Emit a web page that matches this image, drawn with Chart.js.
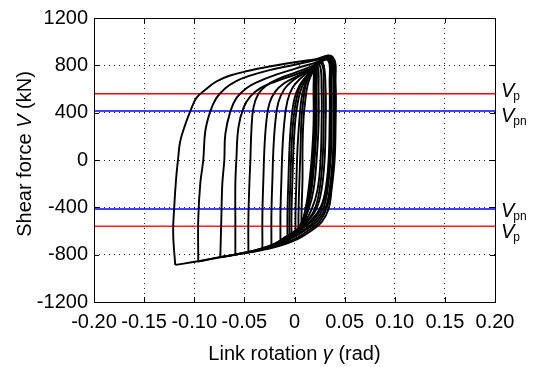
<!DOCTYPE html>
<html>
<head>
<meta charset="utf-8">
<script src="https://cdn.jsdelivr.net/npm/chart.js@4.4.1/dist/chart.umd.min.js"></script>
<style>
  html, body { margin: 0; padding: 0; background: #fff; }
  #wrap { width: 534px; height: 367px; }
</style>
</head>
<body>
<div id="wrap"><canvas id="c" width="534" height="367"></canvas></div>
<script>
const FONT = '"Liberation Sans", Arial, sans-serif';

// link rotation (rad), shear force (kN) - one array per cycle
const loop1 = [[-0.119,-886],[-0.121,-624],[-0.120,-400],[-0.118,-148],[-0.116,19],[-0.114,159],[-0.109,299],[-0.104,411],[-0.098,523],[-0.089,593],[-0.078,663],[-0.065,712],[-0.047,752],[-0.025,790],[0.000,826],[0.020,850],[0.038,872],[0.041,650],[0.041,300],[0.040,0],[0.037,-250],[0.034,-414],[0.027,-526],[0.017,-596],[0.004,-665],[-0.013,-722],[-0.029,-755],[-0.046,-783],[-0.073,-820],[-0.096,-856],[-0.119,-886]];
const loop2 = [[-0.096,-858],[-0.096,-500],[-0.094,-200],[-0.091,0],[-0.089,243],[-0.084,411],[-0.078,523],[-0.069,607],[-0.059,663],[-0.046,708],[-0.025,760],[0.000,805],[0.020,842],[0.037,866],[0.040,650],[0.040,300],[0.039,0],[0.036,-250],[0.032,-410],[0.025,-520],[0.015,-590],[0.002,-660],[-0.015,-718],[-0.030,-752],[-0.046,-781],[-0.073,-819],[-0.096,-858]];
const loop3 = [[-0.074,-822],[-0.073,-500],[-0.072,-200],[-0.070,0],[-0.069,218],[-0.064,411],[-0.058,523],[-0.048,607],[-0.036,663],[-0.019,719],[0.000,770],[0.018,815],[0.036,860],[0.039,650],[0.039,300],[0.038,0],[0.035,-250],[0.031,-405],[0.023,-515],[0.012,-588],[-0.001,-655],[-0.017,-713],[-0.032,-750],[-0.047,-780],[-0.074,-822]];
const loop4 = [[-0.059,-800],[-0.059,-500],[-0.059,-200],[-0.058,0],[-0.056,271],[-0.051,439],[-0.044,537],[-0.034,607],[-0.019,663],[-0.003,710],[0.014,765],[0.035,855],[0.037,650],[0.037,300],[0.036,0],[0.033,-250],[0.029,-400],[0.021,-510],[0.010,-585],[-0.004,-650],[-0.020,-710],[-0.036,-755],[-0.059,-800]];
const loop5 = [[-0.046,-782],[-0.046,-500],[-0.045,-200],[-0.044,0],[-0.043,250],[-0.041,440],[-0.036,560],[-0.028,630],[-0.016,685],[-0.002,730],[0.015,785],[0.034,850],[0.036,650],[0.036,300],[0.035,0],[0.032,-250],[0.027,-400],[0.019,-505],[0.007,-580],[-0.007,-645],[-0.023,-720],[-0.046,-782]];
const loop6 = [[-0.032,-755],[-0.032,-450],[-0.031,-150],[-0.030,100],[-0.028,330],[-0.025,480],[-0.019,580],[-0.010,650],[0.002,705],[0.016,765],[0.033,845],[0.035,650],[0.035,300],[0.034,0],[0.031,-250],[0.026,-400],[0.017,-505],[0.005,-580],[-0.009,-650],[-0.020,-712],[-0.032,-755]];
const loop7 = [[-0.023,-730],[-0.023,-450],[-0.022,-150],[-0.021,100],[-0.019,330],[-0.016,490],[-0.010,600],[-0.002,670],[0.010,735],[0.020,785],[0.028,825],[0.031,600],[0.031,300],[0.030,0],[0.027,-250],[0.022,-410],[0.013,-515],[0.002,-590],[-0.010,-660],[-0.023,-730]];
const loop8 = [[-0.014,-705],[-0.014,-450],[-0.013,-150],[-0.012,100],[-0.010,330],[-0.007,500],[-0.002,610],[0.006,690],[0.015,752],[0.027,815],[0.029,600],[0.029,300],[0.028,0],[0.025,-250],[0.020,-420],[0.011,-530],[0.000,-610],[-0.014,-705]];
const loop9 = [[-0.007,-682],[-0.007,-450],[-0.006,-150],[-0.005,100],[-0.003,350],[0.000,520],[0.005,630],[0.012,710],[0.018,760],[0.025,805],[0.027,600],[0.027,300],[0.026,0],[0.023,-250],[0.017,-420],[0.009,-540],[0.001,-615],[-0.007,-682]];
const loop10 = [[-0.003,-662],[-0.003,-450],[-0.002,-150],[-0.001,100],[0.001,350],[0.004,520],[0.008,630],[0.013,710],[0.017,755],[0.021,790],[0.021,600],[0.021,300],[0.019,0],[0.016,-250],[0.012,-420],[0.006,-545],[0.001,-610],[-0.003,-662]];
const loop11 = [[0.001,-645],[0.001,-450],[0.002,-150],[0.003,100],[0.005,350],[0.007,520],[0.010,630],[0.014,705],[0.017,750],[0.020,782],[0.020,600],[0.020,300],[0.018,0],[0.015,-250],[0.011,-420],[0.007,-540],[0.003,-600],[0.001,-645]];
const loop12 = [[0.004,-630],[0.004,-450],[0.005,-150],[0.006,100],[0.007,350],[0.009,520],[0.011,630],[0.014,700],[0.017,745],[0.019,775],[0.019,600],[0.019,300],[0.017,0],[0.014,-250],[0.011,-420],[0.008,-530],[0.005,-590],[0.004,-630]];
const loop13 = [[0.007,-615],[0.007,-450],[0.008,-150],[0.008,100],[0.009,350],[0.011,520],[0.013,630],[0.016,705],[0.019,755],[0.022,795],[0.022,600],[0.022,300],[0.020,0],[0.017,-250],[0.013,-420],[0.010,-525],[0.008,-580],[0.007,-615]];
const loop14 = [[-0.005,-672],[-0.005,-450],[-0.004,-150],[-0.003,100],[-0.001,350],[0.002,520],[0.006,630],[0.012,705],[0.018,760],[0.023,800],[0.024,600],[0.024,300],[0.022,0],[0.019,-250],[0.014,-420],[0.007,-545],[0.000,-615],[-0.005,-672]];

const loops = [loop1, loop2, loop3, loop4, loop5, loop6, loop7, loop8, loop9, loop10, loop11, loop12, loop13, loop14];

const vp = 560;   // plastic shear
const vpn = 415;  // reduced plastic shear
const xLimits = [-0.2, 0.2];
const yLimits = [-1200, 1200];
const xStep = 0.05;
const yStep = 400;

const datasets = loops.map(l => ({
  data: l.map(p => ({ x: p[0], y: p[1] })),
  borderColor: '#000',
  borderWidth: 1.9,
  pointRadius: 0,
  tension: 0.4,
  fill: false
}));

function hline(v, color) {
  return {
    data: [{ x: xLimits[0], y: v }, { x: xLimits[1], y: v }],
    borderColor: color,
    borderWidth: 1.5,
    pointRadius: 0,
    tension: 0
  };
}
datasets.push(hline(vp, '#ff0000'), hline(-vp, '#ff2020'), hline(vpn, '#0000ff'), hline(-vpn, '#0000ff'));

// draw text in pieces, some italic
function richText(ctx, parts, x, y, size) {
  let w = 0;
  parts.forEach(p => { ctx.font = (p[1] ? 'italic ' : '') + size + 'px ' + FONT; w += ctx.measureText(p[0]).width; });
  let cx = x - w / 2;
  parts.forEach(p => {
    ctx.font = (p[1] ? 'italic ' : '') + size + 'px ' + FONT;
    ctx.fillText(p[0], cx, y);
    cx += ctx.measureText(p[0]).width;
  });
}

const extras = {
  id: 'extras',
  afterDraw(chart) {
    const { ctx, chartArea: a, scales: { x, y } } = chart;
    ctx.save();
    ctx.strokeStyle = '#000';
    ctx.lineWidth = 1;
    ctx.strokeRect(a.left + 0.5, a.top + 0.5, a.right - a.left, a.bottom - a.top);
    ctx.beginPath();
    x.ticks.forEach(t => {
      const px = Math.round(x.getPixelForValue(t.value)) + 0.5;
      ctx.moveTo(px, a.bottom); ctx.lineTo(px, a.bottom - 5);
      ctx.moveTo(px, a.top); ctx.lineTo(px, a.top + 5);
    });
    y.ticks.forEach(t => {
      const py = Math.round(y.getPixelForValue(t.value)) + 0.5;
      ctx.moveTo(a.left, py); ctx.lineTo(a.left + 5, py);
      ctx.moveTo(a.right, py); ctx.lineTo(a.right - 5, py);
    });
    ctx.stroke();

    ctx.fillStyle = '#000';
    ctx.textBaseline = 'alphabetic';
    ctx.textAlign = 'left';
    // axis titles
    richText(ctx, [['Link rotation ', false], ['\u03b3', true], [' (rad)', false]], (a.left + a.right) / 2, 360, 20);
    ctx.save();
    ctx.translate(31, 154);
    ctx.rotate(-Math.PI / 2);
    richText(ctx, [['Shear force ', false], ['V', true], [' (kN)', false]], 0, 0, 20);
    ctx.restore();

    // line labels on the right
    const labels = [[vp, 'p', 3], [vpn, 'pn', 11], [-vpn, 'pn', 8], [-vp, 'p', 12]];
    labels.forEach(l => {
      const base = y.getPixelForValue(l[0]) + l[2];
      const lx = a.right + 6;
      ctx.font = 'italic 20px ' + FONT;
      ctx.fillText('V', lx, base);
      const w = ctx.measureText('V').width;
      ctx.font = '12px ' + FONT;
      ctx.fillText(l[1], lx + w - 1, base + 3);
    });
    ctx.restore();
  }
};

new Chart(document.getElementById('c'), {
  type: 'line',
  data: { datasets: datasets },
  options: {
    responsive: false,
    animation: false,
    layout: { padding: { top: 16, right: 39, left: 0, bottom: 0 } },
    plugins: { legend: { display: false }, tooltip: { enabled: false } },
    scales: {
      x: {
        type: 'linear',
        min: xLimits[0], max: xLimits[1],
        afterFit: s => { s.height = 65; },
        grid: { color: '#222', lineWidth: 1, drawTicks: false },
        border: { display: false, dash: [1, 4] },
        ticks: {
          stepSize: xStep, autoSkip: false, maxRotation: 0, padding: 8,
          color: '#000', font: { family: FONT, size: 20 },
          callback: v => Math.abs(v) < 1e-9 ? '0' : v.toFixed(2)
        }
      },
      y: {
        type: 'linear',
        min: yLimits[0], max: yLimits[1],
        afterFit: s => { s.width = 94; },
        grid: { color: '#222', lineWidth: 1, drawTicks: false },
        border: { display: false, dash: [1, 4] },
        ticks: {
          stepSize: yStep, autoSkip: false, padding: 6,
          color: '#000', font: { family: FONT, size: 20 },
          callback: v => String(Math.round(v))
        }
      }
    }
  },
  plugins: [extras]
});
</script>
</body>
</html>
